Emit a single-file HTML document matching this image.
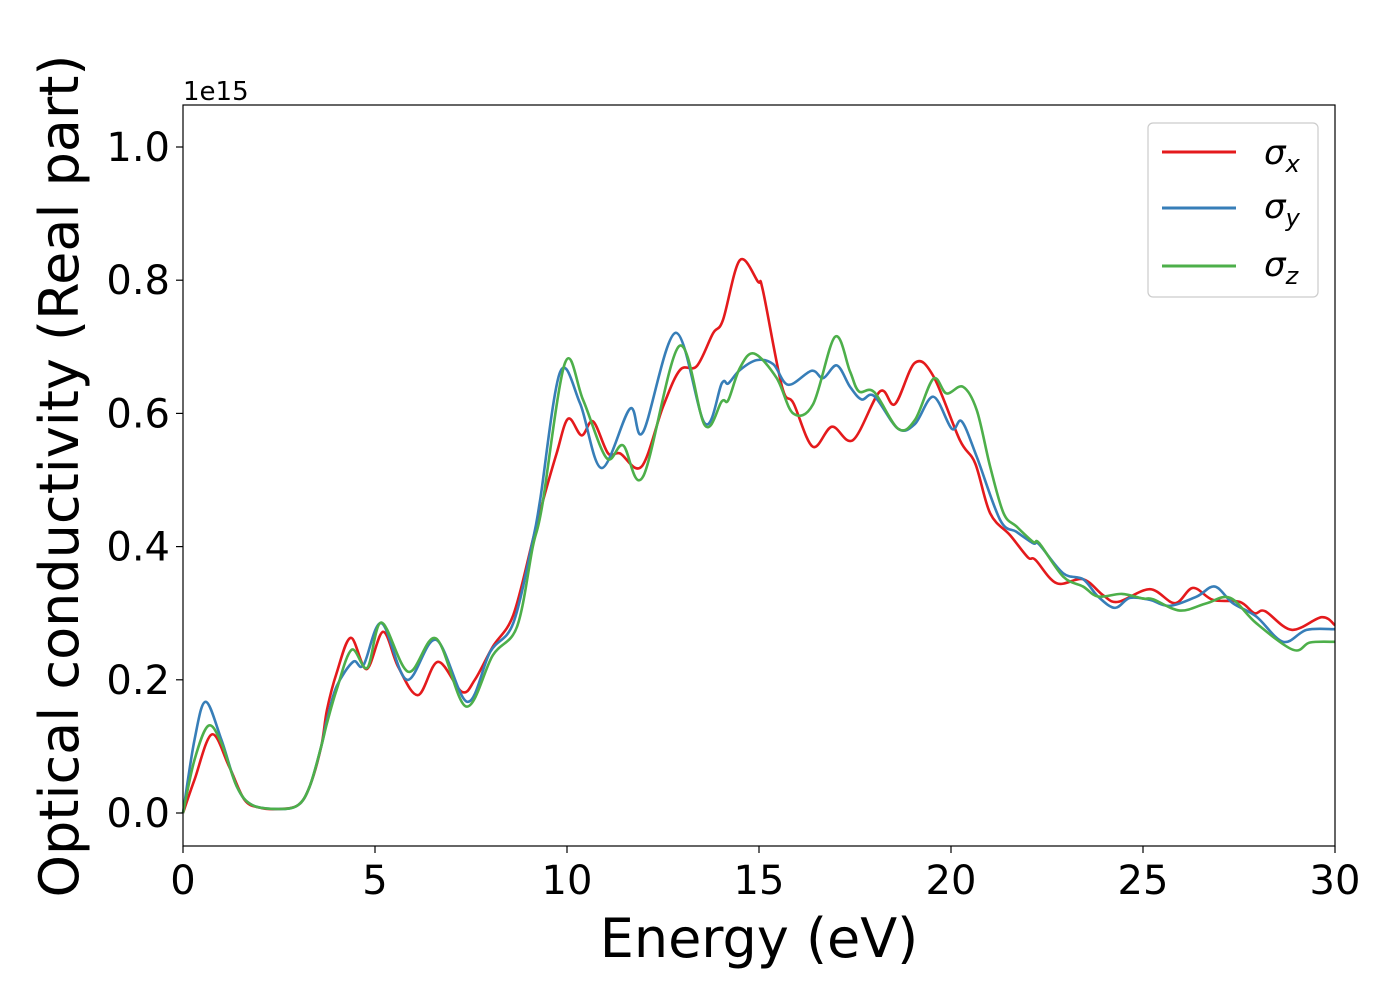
<!DOCTYPE html>
<html><head><meta charset="utf-8"><style>
body{margin:0;background:#fff;}
svg{display:block;font-family:"DejaVu Sans","Liberation Sans",sans-serif;}
</style></head><body>
<svg id="chart" width="1400" height="1000" viewBox="0 0 1400 1000" xmlns="http://www.w3.org/2000/svg">
<rect width="1400" height="1000" fill="#fff"/>
<g id="series"></g>
<rect x="183" y="105" width="1152" height="741" fill="none" stroke="#000" stroke-width="1.2"/>
<g id="xticks"></g>
<g id="yticks"></g>
<text x="183" y="100" font-size="26">1e15</text>
<text x="759" y="957" font-size="54" text-anchor="middle">Energy (eV)</text>
<text transform="translate(78,476) rotate(-90)" font-size="54" text-anchor="middle">Optical conductivity (Real part)</text>
<g>
<rect x="1148" y="123" width="170" height="174" rx="5" fill="#fff" stroke="#ccc" stroke-width="1.2"/>
<line x1="1162" y1="152" x2="1236" y2="152" stroke="#e41a1c" stroke-width="3"/>
<text x="1264" y="164" font-size="34" font-style="italic">σ<tspan font-size="24" dy="8">x</tspan></text>
<line x1="1162" y1="208" x2="1236" y2="208" stroke="#377eb8" stroke-width="3"/>
<text x="1264" y="218" font-size="34" font-style="italic">σ<tspan font-size="24" dy="8">y</tspan></text>
<line x1="1162" y1="266" x2="1236" y2="266" stroke="#4daf4a" stroke-width="3"/>
<text x="1264" y="276" font-size="34" font-style="italic">σ<tspan font-size="24" dy="8">z</tspan></text>
</g>
</svg>
<script>
const xTickLabels=[0,5,10,15,20,25,30];
const yTickLabels=["0.0","0.2","0.4","0.6","0.8","1.0"];
const yTickValues=[0,0.2,0.4,0.6,0.8,1.0];
const sxE=[0,0.3,0.75,1.2,1.6,2.0,2.5,3.0,3.3,3.6,3.75,4.0,4.37,4.78,5.21,5.6,6.12,6.64,7.26,7.6,8.07,8.6,9.11,9.38,9.73,10.03,10.38,10.68,11.07,11.38,11.94,12.5,12.94,13.38,13.8,14.06,14.5,14.97,15.1,15.6,15.9,16.4,16.9,17.45,18.15,18.54,19.06,19.54,20.23,20.63,21.02,21.54,22.0,22.2,22.75,23.44,23.96,24.35,25.18,25.83,26.3,26.82,27.52,27.9,28.18,28.87,29.65,30];
const sxV=[0,0.05,0.118,0.07,0.02,0.008,0.006,0.012,0.04,0.1,0.155,0.21,0.263,0.216,0.272,0.22,0.177,0.227,0.182,0.2,0.25,0.297,0.41,0.47,0.54,0.592,0.567,0.588,0.54,0.54,0.52,0.61,0.665,0.671,0.72,0.74,0.83,0.798,0.785,0.64,0.615,0.55,0.58,0.56,0.633,0.614,0.676,0.656,0.56,0.525,0.45,0.417,0.384,0.38,0.345,0.351,0.327,0.317,0.336,0.315,0.338,0.32,0.317,0.3,0.303,0.275,0.294,0.282];
const syE=[0,0.3,0.59,1.0,1.4,1.8,2.5,3.0,3.3,3.6,3.75,4.0,4.43,4.7,5.17,5.83,6.59,7.4,8.0,8.6,9.11,9.3,9.82,10.34,10.9,11.64,11.98,12.83,13.59,14.03,14.2,14.5,14.94,15.37,15.76,16.37,16.67,17.03,17.37,17.67,18.0,18.62,19.06,19.54,20.02,20.28,20.67,21.28,21.71,22.14,22.3,22.92,23.44,23.83,24.27,24.66,25.18,25.7,26.4,26.87,27.34,27.95,28.65,29.26,30];
const syV=[0,0.11,0.167,0.11,0.04,0.012,0.006,0.012,0.04,0.1,0.14,0.19,0.227,0.222,0.285,0.2,0.26,0.167,0.242,0.285,0.41,0.47,0.662,0.615,0.518,0.607,0.572,0.721,0.585,0.645,0.645,0.665,0.68,0.674,0.643,0.664,0.653,0.672,0.64,0.621,0.626,0.577,0.584,0.625,0.577,0.588,0.535,0.44,0.422,0.405,0.403,0.36,0.351,0.325,0.308,0.323,0.32,0.311,0.325,0.34,0.315,0.295,0.257,0.275,0.276];
const szE=[0,0.3,0.66,1.0,1.4,1.8,2.5,3.0,3.3,3.6,3.75,4.0,4.39,4.8,5.17,5.87,6.59,7.37,8.07,8.7,9.11,9.35,9.95,10.42,11.03,11.46,11.98,12.92,13.59,14.03,14.2,14.5,14.87,15.46,15.89,16.41,16.98,17.37,17.6,18.0,18.62,19.06,19.54,19.88,20.31,20.67,21.02,21.37,21.71,22.14,22.3,22.92,23.44,23.83,24.45,25.0,25.26,25.96,26.66,27.27,27.95,28.91,29.35,30];
const szV=[0,0.08,0.131,0.105,0.04,0.012,0.006,0.012,0.04,0.1,0.135,0.185,0.245,0.218,0.286,0.212,0.262,0.16,0.237,0.28,0.4,0.46,0.676,0.62,0.533,0.552,0.505,0.701,0.582,0.618,0.62,0.668,0.69,0.653,0.6,0.614,0.715,0.663,0.633,0.632,0.577,0.59,0.652,0.63,0.64,0.605,0.52,0.45,0.43,0.407,0.405,0.355,0.34,0.325,0.329,0.322,0.321,0.304,0.315,0.323,0.285,0.245,0.256,0.257];

const X0=183,X1=1335,XMIN=0,XMAX=30;
const Y0=813,YPER=666;
function xScale(v){return X0+(v-XMIN)/(XMAX-XMIN)*(X1-X0);}
function yScale(v){return Y0-v*YPER;}
const NS="http://www.w3.org/2000/svg";
function smoothPath(E,V){
  const p=E.map((e,i)=>[xScale(e),yScale(V[i])]);
  let d="M"+p[0][0].toFixed(2)+","+p[0][1].toFixed(2);
  for(let i=0;i<p.length-1;i++){
    const a=p[i>0?i-1:i],b=p[i],c=p[i+1],e=p[i+2<p.length?i+2:i+1];
    const c1=[b[0]+(c[0]-a[0])/6,b[1]+(c[1]-a[1])/6];
    const c2=[c[0]-(e[0]-b[0])/6,c[1]-(e[1]-b[1])/6];
    d+=" C"+c1[0].toFixed(2)+","+c1[1].toFixed(2)+" "+c2[0].toFixed(2)+","+c2[1].toFixed(2)+" "+c[0].toFixed(2)+","+c[1].toFixed(2);
  }
  return d;
}
const g=document.getElementById("series");
[[sxE,sxV,"#e41a1c","sigma-x-line"],[syE,syV,"#377eb8","sigma-y-line"],[szE,szV,"#4daf4a","sigma-z-line"]].forEach(s=>{
  const el=document.createElementNS(NS,"path");
  el.setAttribute("d",smoothPath(s[0],s[1]));
  el.setAttribute("fill","none");
  el.setAttribute("stroke",s[2]);
  el.setAttribute("stroke-width","2.6");
  
  
  g.appendChild(el);
});
const xt=document.getElementById("xticks");
xTickLabels.forEach(v=>{
  const x=xScale(v);
  const l=document.createElementNS(NS,"line");
  l.setAttribute("x1",x);l.setAttribute("x2",x);l.setAttribute("y1",846);l.setAttribute("y2",853);
  l.setAttribute("stroke","#000");l.setAttribute("stroke-width","1.2");
  
  
  xt.appendChild(l);
  const t=document.createElementNS(NS,"text");
  t.setAttribute("x",x);t.setAttribute("y",894);t.setAttribute("font-size","40");t.setAttribute("text-anchor","middle");
  t.textContent=String(v);
  
  
  xt.appendChild(t);
});
const yt=document.getElementById("yticks");
yTickValues.forEach((v,i)=>{
  const y=yScale(v);
  const l=document.createElementNS(NS,"line");
  l.setAttribute("x1",176);l.setAttribute("x2",183);l.setAttribute("y1",y);l.setAttribute("y2",y);
  l.setAttribute("stroke","#000");l.setAttribute("stroke-width","1.2");
  
  
  yt.appendChild(l);
  const t=document.createElementNS(NS,"text");
  t.setAttribute("x",170);t.setAttribute("y",y+14);t.setAttribute("font-size","40");t.setAttribute("text-anchor","end");
  t.textContent=yTickLabels[i];
  
  
  yt.appendChild(t);
});
</script>
</body></html>
